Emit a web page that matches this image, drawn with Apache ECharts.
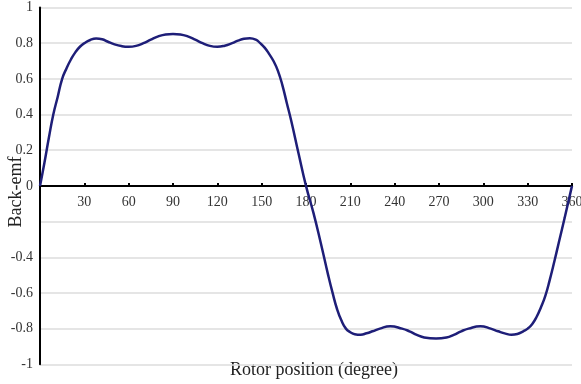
<!DOCTYPE html>
<html>
<head>
<meta charset="utf-8">
<script src="https://cdn.jsdelivr.net/npm/echarts@6/dist/echarts.min.js"></script>
<style>
  html, body { margin: 0; padding: 0; background: #fff; }
  #chart { width: 581px; height: 384px; }
</style>
</head>
<body>
<div id="chart"></div>
<script>
// Rotor position (degrees) and back-emf samples over one electrical period
const rotorPosition = [
  0, 3, 6, 9, 12, 15, 18, 21, 24, 27, 30, 34, 38, 42, 46, 50, 55, 60, 65, 70, 75, 80, 85,
  90, 95, 100, 105, 110, 115, 120, 125, 130, 134, 138, 142, 146, 149, 152, 155, 158, 161, 164, 167,
  170, 175, 180, 185, 190, 195, 198, 201, 204, 207, 210, 213, 217, 221, 225, 230, 237, 245,
  250, 255, 260, 268, 275, 280, 285, 290, 298, 305, 310, 315, 319, 323, 327, 330, 333,
  336, 339, 342, 345, 348, 351, 355, 360
];
const backEmf = [
  0, 0.13, 0.27, 0.40, 0.50, 0.60, 0.66, 0.71, 0.75, 0.78, 0.80, 0.818, 0.826, 0.822, 0.808, 0.795, 0.784, 0.78, 0.785, 0.80, 0.82, 0.838, 0.849,
  0.852, 0.849, 0.838, 0.82, 0.80, 0.785, 0.78, 0.786, 0.80, 0.814, 0.825, 0.828, 0.82, 0.80, 0.775, 0.74, 0.70, 0.645, 0.565, 0.465,
  0.365, 0.18, 0, -0.15, -0.32, -0.50, -0.60, -0.69, -0.755, -0.80, -0.82, -0.831, -0.834, -0.826, -0.815, -0.80, -0.787, -0.80,
  -0.815, -0.835, -0.85, -0.856, -0.85, -0.835, -0.815, -0.80, -0.787, -0.80, -0.815, -0.828, -0.834, -0.83, -0.815, -0.80, -0.775,
  -0.735, -0.68, -0.615, -0.525, -0.425, -0.32, -0.18, 0
];

// Axis ticks and their printed labels
const xTicks = [0, 30, 60, 90, 120, 150, 180, 210, 240, 270, 300, 330, 360];
const xTickLabels = ['', '30', '60', '90', '120', '150', '180', '210', '240', '270', '300', '330', '360'];
const yTicks = [-1, -0.8, -0.6, -0.4, -0.2, 0, 0.2, 0.4, 0.6, 0.8, 1];
const yTickLabels = ['-1', '-0.8', '-0.6', '-0.4', '', '0', '0.2', '0.4', '0.6', '0.8', '1'];

const xTitle = 'Rotor position (degree)';
const yTitle = 'Back-emf';

function lookupLabel(ticks, labels, v) {
  for (let i = 0; i < ticks.length; i++) {
    if (Math.abs(ticks[i] - v) < 1e-6) return labels[i];
  }
  return '';
}

const GRID_TOP = 7.5;
const GRID_BOTTOM = 19.7;
const CHART_H = 384;
const plotHeight = CHART_H - GRID_TOP - GRID_BOTTOM;

const chart = echarts.init(document.getElementById('chart'), null, { renderer: 'canvas' });
const serif = '"Liberation Serif", "DejaVu Serif", serif';

chart.setOption({
  animation: false,
  backgroundColor: '#ffffff',
  grid: { left: 40, right: 9, top: GRID_TOP, bottom: GRID_BOTTOM, containLabel: false, outerBoundsMode: 'none' },
  xAxis: {
    type: 'value',
    min: 0,
    max: 360,
    interval: 30,
    position: 'bottom',
    // horizontal axis runs through the middle of the plot (value 0)
    offset: -plotHeight / 2,
    axisLine: { onZero: false, lineStyle: { color: '#000', width: 2 } },
    axisTick: { show: true, inside: true, length: 3, lineStyle: { color: '#000', width: 2 } },
    axisLabel: {
      margin: 9,
      fontFamily: serif,
      fontSize: 14,
      color: '#333',
      formatter: v => lookupLabel(xTicks, xTickLabels, v)
    },
    splitLine: { show: false }
  },
  yAxis: {
    type: 'value',
    min: -1,
    max: 1,
    interval: 0.2,
    axisLine: { show: true, onZero: false, lineStyle: { color: '#000', width: 2 } },
    axisTick: { show: false },
    axisLabel: {
      margin: 7,
      fontFamily: serif,
      fontSize: 14,
      color: '#333',
      formatter: v => lookupLabel(yTicks, yTickLabels, v)
    },
    splitLine: { show: true, lineStyle: { color: '#dcdcdc', width: 1.5 } }
  },
  graphic: [{
    type: 'text',
    left: 230,
    top: 361,
    style: {
      text: xTitle,
      fontFamily: serif,
      fontSize: 18,
      fill: '#222'
    }
  }, {
    type: 'text',
    x: 16,
    y: 192,
    rotation: Math.PI / 2,
    style: {
      text: yTitle,
      fontFamily: serif,
      fontSize: 18,
      fill: '#222',
      align: 'center',
      verticalAlign: 'middle'
    }
  }],
  series: [{
    type: 'line',
    data: rotorPosition.map((p, i) => [p, backEmf[i]]),
    smooth: 0.5,
    showSymbol: false,
    lineStyle: { color: '#1e1e78', width: 2.5 }
  }]
});
</script>
</body>
</html>
